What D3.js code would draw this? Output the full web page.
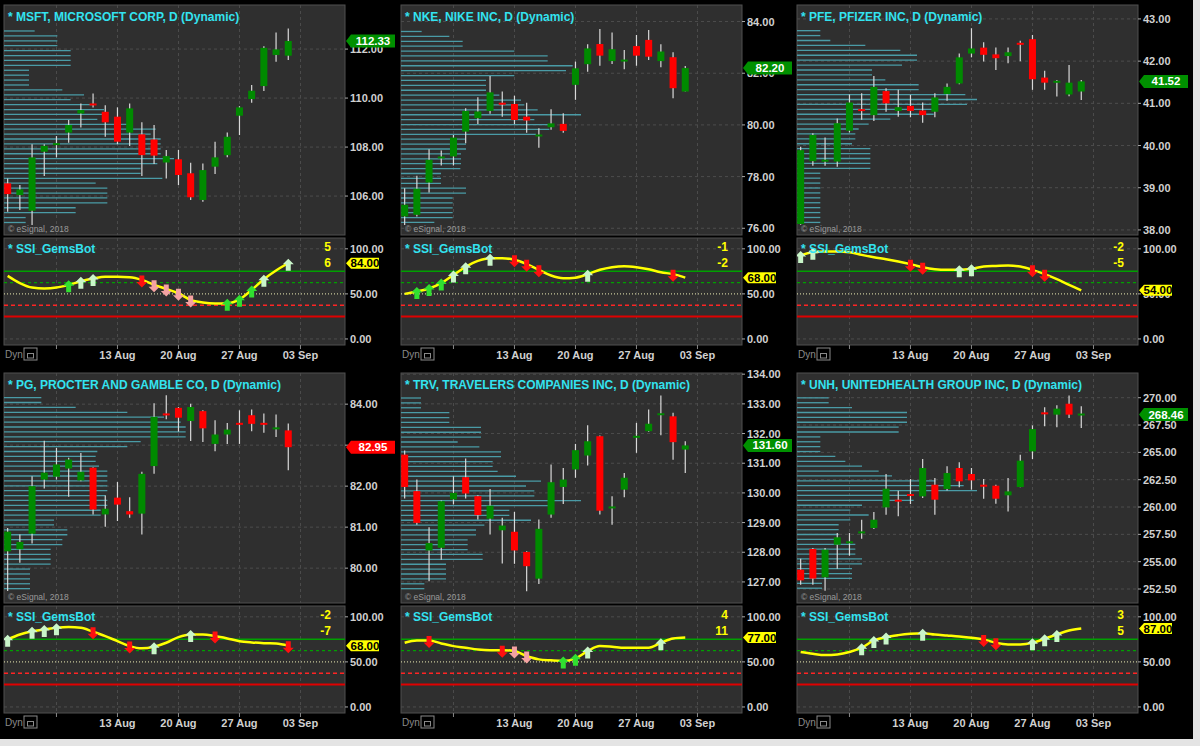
<!DOCTYPE html>
<html>
<head>
<meta charset="utf-8">
<script src="https://cdn.jsdelivr.net/npm/d3@7"></script>
<style>
  html, body { margin: 0; padding: 0; background: #000; }
  svg { display: block; font-family: Arial, "Liberation Sans", sans-serif; }
</style>
</head>
<body>
<div id="chart"></div>
<script>
// ---- data: daily candles [open, high, low, close], 31 Jul .. 31 Aug 2018
const msftCandles = [
  [106.52,106.72,105.36,106.08],[106.04,106.45,105.43,106.27],[105.40,108.12,104.82,107.58],[107.81,108.12,106.82,108.05],
  [108.10,108.45,107.58,108.12],[108.59,109.10,108.18,108.90],[109.37,109.78,108.80,109.51],[109.74,110.19,109.62,109.69],
  [109.44,109.71,108.42,109.01],[109.24,109.62,108.12,108.22],[108.59,109.78,108.04,109.58],[108.52,109.01,106.82,107.67],
  [108.31,108.90,107.31,107.65],[107.37,107.88,106.72,107.63],[107.50,107.88,106.45,106.86],[106.93,107.36,105.84,105.95],
  [105.84,107.33,105.77,107.06],[107.20,108.22,106.90,107.58],[107.67,108.59,107.58,108.42],[109.28,109.67,108.49,109.62],
  [109.96,110.53,109.81,110.30],[110.49,112.12,110.29,112.05],[111.76,112.68,111.48,111.99],[111.73,112.84,111.55,112.33]
]
const nkeCandles = [
  [76.46,77.55,76.13,76.91],[76.52,78.03,76.46,77.53],[77.77,79.06,77.38,78.65],[78.70,79.01,78.43,78.74],
  [78.78,79.61,78.43,79.51],[79.74,80.64,79.29,80.54],[80.26,81.07,80.04,80.52],[80.54,81.89,80.43,81.26],
  [80.82,81.29,80.32,80.77],[80.81,81.13,80.03,80.19],[80.32,80.86,79.70,80.17],[79.55,79.87,79.12,79.59],
  [79.91,80.61,79.81,80.06],[80.04,80.45,79.70,79.77],[81.55,82.45,80.97,82.19],[82.35,83.12,82.06,82.96],
  [83.13,83.71,82.29,82.68],[82.47,83.58,82.36,82.93],[82.46,82.90,82.15,82.49],[83.05,83.48,82.29,82.68],
  [83.29,83.67,82.51,82.64],[82.47,83.12,82.23,82.84],[82.62,82.81,81.03,81.42],[81.29,82.28,81.29,82.20]
]
const pfeCandles = [
  [38.14,39.97,38.12,39.89],[39.63,40.29,39.52,40.25],[39.63,40.19,39.52,39.64],[39.62,40.64,39.50,40.53],
  [40.35,41.21,40.31,41.02],[40.84,41.24,40.61,40.81],[40.72,41.65,40.58,41.39],[41.29,41.36,40.80,41.00],
  [40.82,41.32,40.68,40.91],[40.94,41.20,40.67,40.82],[40.83,41.02,40.54,40.72],[40.80,41.24,40.67,41.14],
  [41.22,41.47,41.06,41.39],[41.47,42.18,41.45,42.09],[42.18,42.78,42.09,42.30],[42.32,42.45,41.99,42.15],
  [42.16,42.32,41.79,42.07],[42.12,42.32,41.95,42.21],[42.41,42.48,42.00,42.39],[42.52,42.62,41.32,41.57],
  [41.61,41.77,41.32,41.49],[41.50,41.55,41.16,41.51],[41.21,41.91,41.17,41.49],[41.28,41.55,41.08,41.52]
]
const pgCandles = [
  [80.41,80.98,79.44,80.89],[80.46,80.82,80.13,80.64],[80.84,82.24,80.60,82.00],[82.16,83.11,81.94,82.33],
  [82.23,82.93,82.16,82.53],[82.43,82.69,81.74,82.65],[82.14,82.81,82.12,82.35],[82.45,82.46,81.31,81.43],
  [81.31,81.77,81.01,81.45],[81.72,82.10,81.15,81.55],[81.39,81.73,81.23,81.31],[81.33,82.35,80.82,82.30],
  [82.49,84.02,82.30,83.69],[83.75,84.22,83.63,83.72],[83.91,83.93,83.33,83.67],[83.59,84.01,83.10,83.93],
  [83.83,83.85,83.08,83.41],[83.03,83.61,82.85,83.26],[83.26,83.54,83.03,83.38],[83.52,83.85,83.03,83.49],
  [83.73,83.87,83.34,83.52],[83.52,83.77,83.30,83.49],[83.40,83.75,83.20,83.41],[83.36,83.53,82.39,82.95]
]
const trvCandles = [
  [131.29,131.43,129.81,130.20],[130.06,130.45,128.93,128.99],[128.06,128.84,127.02,128.31],[128.15,129.74,127.75,129.72],
  [129.78,130.56,129.61,130.00],[130.53,131.16,129.81,129.98],[129.89,129.92,129.10,129.25],[129.13,130.13,128.60,129.57],
  [128.74,129.16,127.62,128.90],[128.69,129.36,127.61,128.06],[128.01,128.03,126.69,127.53],[127.11,129.10,126.93,128.79],
  [129.27,130.96,129.16,130.36],[130.20,130.84,129.63,130.45],[130.79,131.65,130.51,131.44],[131.26,132.28,130.92,131.74],
  [131.91,131.93,129.27,129.40],[129.48,129.89,128.93,129.51],[130.11,130.67,129.85,130.51],[131.85,132.36,131.35,131.89],
  [132.08,132.81,132.06,132.33],[132.63,133.28,131.94,132.65],[132.58,132.70,131.12,131.71],[131.46,131.74,130.67,131.60]
]
const unhCandles = [
  [254.27,255.27,252.90,253.29],[256.16,256.25,252.90,253.45],[253.57,256.25,252.35,256.10],[256.55,257.62,254.36,257.23],
  [256.71,257.62,255.55,256.77],[257.62,258.84,257.10,257.68],[258.08,259.54,257.99,258.84],[259.97,263.02,259.30,261.68],
  [260.58,261.49,259.15,260.46],[261.10,262.56,260.27,260.98],[260.98,264.39,260.82,263.57],[262.04,262.65,259.30,260.67],
  [261.65,263.72,261.52,263.11],[263.57,264.09,261.80,262.35],[263.02,263.57,261.59,262.44],[261.95,262.56,260.76,261.83],
  [261.95,262.04,260.30,260.76],[261.07,262.65,259.60,261.43],[261.83,264.79,261.80,264.24],[265.09,267.47,264.39,267.13],
  [268.57,269.12,267.38,268.45],[268.45,269.30,267.29,269.00],[269.45,270.21,268.14,268.45],[268.41,269.21,267.23,268.46]
]

// ---- volume-at-price profile, top row (high) to bottom row (low), relative units
const msftProfile = [92,160,160,160,200,200,200,200,75,75,75,75,175,240,200,270,300,310,280,385,455,440,470,470,470,470,510,460,410,410,475,275,310,310,310,310,215,215,65,65]
const nkeProfile = [62,145,185,185,340,440,440,515,495,340,255,255,255,295,360,370,410,540,400,445,445,405,195,195,195,180,180,180,178,120,120,120,195,195,155,155,155,155,155,100]
const pfeProfile = [70,70,100,205,310,360,360,315,225,225,265,365,365,505,540,510,420,410,280,215,185,175,175,165,220,220,220,220,220,70,70,70,70,70,70,70,70,70,70,70]
const pgProfile = [112,112,215,370,480,530,545,545,545,410,370,280,275,275,285,310,310,310,310,310,305,310,310,290,290,150,150,190,190,175,175,140,140,140,140,78,78,78,78,78]
const trvProfile = [60,60,60,145,145,145,240,240,240,170,235,300,300,275,275,290,345,420,375,400,400,540,445,325,325,390,250,225,225,200,200,200,245,245,135,135,135,135,70,70]
const unhProfile = [95,95,165,330,330,330,305,305,70,70,70,70,115,145,195,245,285,415,500,540,350,350,195,160,215,160,125,125,125,125,175,175,175,195,195,165,165,165,75,75]

// ---- SSI_GemsBot oscillator values, one per candle
const msftSsi = [70,62,57,56,57,60,64,67,69,69,68.5,65.5,60,55.5,50.7,43.3,40.4,39.3,39.6,44,54.4,66.3,76,84]
const nkeSsi = [50,52.6,56,62,71,80,86.7,89.6,89.6,87.8,83,76.7,70.4,67.4,68,71.9,76.7,79.6,80.7,79.6,77.4,74,71.9,68]
const pfeSsi = [92.6,96.3,97,97,96.3,93.3,90.7,88.5,86,83,79.6,77.4,76.7,76.7,77.8,80.4,81,81.5,80.4,76.7,71.9,66.3,60,54]
const pgSsi = [75,80.4,84,86,87.8,88.6,87.8,83.4,78.6,73,67.5,65,66.8,71.2,77.5,80.4,80.4,78.6,76,73,71.6,70.8,70.5,68]
const trvSsi = [71.2,73.8,73.8,70.5,67.5,65.7,63.8,63,63,62,56.5,52.8,51.7,51,53.9,62,67.5,66.8,65.7,65.7,65.7,71.2,76,77]
const unhSsi = [61,59,57.6,58.3,61,65.7,73.8,77.5,79.7,81.2,81.9,80.4,79.3,78.2,76.8,74.9,71.2,69.4,69.4,71.2,75.6,80.4,84.9,87]

// ---- signal arrows per candle: G strong buy, g buy, R strong sell, r sell, . none
const msftSignals = ".....Ggg...Rrrrr..GGGg.g"
const nkeSignals  = ".GGGgg.g.RRR...g......R."
const pfeSignals  = "gg.......RR..gg....RR..."
const pgSignals   = "g.ggg..R..R.g..g.R.....R"
const trvSignals  = "..R.....Rrr..GGg.....g.."
const unhSignals  = ".....ggg..g....RR..ggg.."

const msftCounts = ["5", "6"]
const nkeCounts = ["-1", "-2"]
const pfeCounts = ["-2", "-5"]
const pgCounts = ["-2", "-7"]
const trvCounts = ["4", "11"]
const unhCounts = ["3", "5"]

// ---- axis ticks
const msftTicks = [106, 108, 110, 112]
const nkeTicks = [76, 78, 80, 82, 84]
const pfeTicks = [38, 39, 40, 41, 42, 43]
const pgTicks = [80, 81, 82, 83, 84]
const trvTicks = [127, 128, 129, 130, 131, 132, 133, 134]
const unhTicks = [252.5, 255, 257.5, 260, 262.5, 265, 267.5, 270]
const ssiTicks = [0, 50, 100]
const ssiLevels = [75, 62.5, 50, 37.5, 25]
const dateTickIndex = [4, 9, 14, 19, 24]
const dateTickLabels = ["", "13 Aug", "20 Aug", "27 Aug", "03 Sep"]

// ---- layout
const W = 1200, H = 746
const colLeft = [4, 401, 797]
const rowTop = [5, 373]
const plotW = 341, priceH = 230, gapH = 3, indH = 107

const panels = [
  { title: "* MSFT, MICROSOFT CORP, D (Dynamic)", candles: msftCandles, profile: msftProfile, ssi: msftSsi, signals: msftSignals, counts: msftCounts, ticks: msftTicks, view: [104.41, 113.80], col: 0, row: 0 },
  { title: "* NKE, NIKE INC, D (Dynamic)", candles: nkeCandles, profile: nkeProfile, ssi: nkeSsi, signals: nkeSignals, counts: nkeCounts, ticks: nkeTicks, view: [75.74, 84.64], col: 1, row: 0 },
  { title: "* PFE, PFIZER INC, D (Dynamic)", candles: pfeCandles, profile: pfeProfile, ssi: pfeSsi, signals: pfeSignals, counts: pfeCounts, ticks: pfeTicks, view: [37.88, 43.33], col: 2, row: 0 },
  { title: "* PG, PROCTER AND GAMBLE CO, D (Dynamic)", candles: pgCandles, profile: pgProfile, ssi: pgSsi, signals: pgSignals, counts: pgCounts, ticks: pgTicks, view: [79.15, 84.76], col: 0, row: 1 },
  { title: "* TRV, TRAVELERS COMPANIES INC, D (Dynamic)", candles: trvCandles, profile: trvProfile, ssi: trvSsi, signals: trvSignals, counts: trvCounts, ticks: trvTicks, view: [126.29, 134.04], col: 1, row: 1 },
  { title: "* UNH, UNITEDHEALTH GROUP INC, D (Dynamic)", candles: unhCandles, profile: unhProfile, ssi: unhSsi, signals: unhSignals, counts: unhCounts, ticks: unhTicks, view: [251.22, 272.26], col: 2, row: 1 }
]

const signalColor = { G: "#30e030", g: "#c9f5c9", R: "#ff1010", r: "#f4a2a2" }
const fmt = d3.format(".2f")

const svg = d3.select("#chart").append("svg")
  .attr("width", W).attr("height", H)
  .attr("viewBox", [0, 0, W, H])

svg.append("rect").attr("width", W).attr("height", H).attr("fill", "#000")

function arrowPath(cx, cy, up) {
  const s = up ? 1 : -1
  return d3.line()([
    [cx, cy - 6 * s], [cx + 5.5, cy - 0.5 * s], [cx + 2.5, cy - 0.5 * s], [cx + 2.5, cy + 6 * s],
    [cx - 2.5, cy + 6 * s], [cx - 2.5, cy - 0.5 * s], [cx - 5.5, cy - 0.5 * s]
  ]) + "Z"
}

function valueTag(g, x0, yc, w, h, fill, textFill, label) {
  g.append("path")
    .attr("d", d3.line()([[x0, yc], [x0 + 5, yc - h / 2], [x0 + w, yc - h / 2], [x0 + w, yc + h / 2], [x0 + 5, yc + h / 2]]) + "Z")
    .attr("fill", fill)
  g.append("text")
    .attr("x", x0 + 5 + (w - 5) / 2).attr("y", yc + 4)
    .attr("text-anchor", "middle")
    .attr("fill", textFill).attr("font-size", 11.5).attr("font-weight", "bold")
    .text(label)
}

function drawPanel(p) {
  const L = colLeft[p.col], R = L + plotW
  const top = rowTop[p.row], pBot = top + priceH
  const iTop = pBot + gapH, iBot = iTop + indH
  const g = svg.append("g")

  const x = d3.scaleLinear().domain([-0.3, 27.65]).range([L, R])
  const y = d3.scaleLinear().domain(p.view).range([pBot, top])
  const yI = d3.scaleLinear().domain([-6.7, 112]).range([iBot, iTop])

  // plot backgrounds
  g.append("rect").attr("x", L).attr("y", top).attr("width", plotW).attr("height", priceH)
    .attr("fill", "#2f2f2f").attr("stroke", "#505050")
  g.append("rect").attr("x", L).attr("y", iTop).attr("width", plotW).attr("height", indH)
    .attr("fill", "#2f2f2f").attr("stroke", "#505050")

  const clip = "clip" + p.col + p.row
  g.append("clipPath").attr("id", clip).append("rect")
    .attr("x", L).attr("y", top).attr("width", plotW).attr("height", priceH)
  const clipI = "clipI" + p.col + p.row
  g.append("clipPath").attr("id", clipI).append("rect")
    .attr("x", L).attr("y", iTop).attr("width", plotW).attr("height", indH)

  // grid
  const grid = g.append("g").attr("stroke", "#4d4d4d").attr("stroke-dasharray", "3,3")
  grid.selectAll("line.h").data(p.ticks.filter(t => y(t) > top + 1)).join("line")
    .attr("x1", L).attr("x2", R).attr("y1", d => y(d)).attr("y2", d => y(d))
  grid.selectAll("line.v").data(dateTickIndex).join("line")
    .attr("x1", d => x(d)).attr("x2", d => x(d)).attr("y1", top).attr("y2", pBot)
  grid.selectAll("line.vi").data(dateTickIndex).join("line")
    .attr("x1", d => x(d)).attr("x2", d => x(d)).attr("y1", iTop).attr("y2", iBot)
  grid.selectAll("line.hi").data([0, 100]).join("line")
    .attr("x1", L).attr("x2", R).attr("y1", d => yI(d)).attr("y2", d => yI(d))

  // volume profile
  const hi = d3.max(p.candles, d => d[1]), lo = d3.min(p.candles, d => d[2])
  const step = (hi - lo) / p.profile.length
  const vol = d3.scaleLinear().domain([0, 600]).range([0, 200])
  g.append("g").attr("clip-path", `url(#${clip})`)
    .selectAll("line").data(p.profile).join("line")
    .attr("x1", L).attr("x2", d => L + vol(d))
    .attr("y1", (d, i) => y(hi - (i + 0.5) * step)).attr("y2", (d, i) => y(hi - (i + 0.5) * step))
    .attr("stroke", "#4a9ba6").attr("stroke-width", 1.3)

  // candles
  const cg = g.append("g").attr("clip-path", `url(#${clip})`)
  cg.selectAll("line").data(p.candles).join("line")
    .attr("x1", (d, i) => x(i)).attr("x2", (d, i) => x(i))
    .attr("y1", d => y(d[1])).attr("y2", d => y(d[2]))
    .attr("stroke", "#d9d9d9").attr("stroke-width", 1.2)
  cg.selectAll("rect").data(p.candles).join("rect")
    .attr("x", (d, i) => x(i) - 3.5).attr("width", 7)
    .attr("y", d => Math.min(y(d[0]), y(d[3])) - (Math.abs(y(d[0]) - y(d[3])) < 2 ? 1 : 0))
    .attr("height", d => Math.max(2, Math.abs(y(d[0]) - y(d[3]))))
    .attr("fill", d => d[3] >= d[0] ? "#008a00" : "#ff0000")

  // titles
  g.append("text").attr("x", L + 4).attr("y", top + 16)
    .attr("fill", "#33e3f0").attr("font-size", 12).attr("font-weight", "bold").text(p.title)
  g.append("text").attr("x", L + 4).attr("y", pBot - 3)
    .attr("fill", "#9a9a9a").attr("font-size", 8.5).text("© eSignal, 2018")

  // price axis
  const axisG = g.append("g")
  axisG.selectAll("text").data(p.ticks).join("text")
    .attr("x", R + 5).attr("y", d => y(d) + 4)
    .attr("fill", "#d0d0d0").attr("font-size", 11).attr("font-weight", "bold")
    .text(d => fmt(d))
  axisG.selectAll("line").data(p.ticks).join("line")
    .attr("x1", R).attr("x2", R + 3).attr("y1", d => y(d)).attr("y2", d => y(d))
    .attr("stroke", "#aaa")

  const last = p.candles[p.candles.length - 1]
  valueTag(g, R + 1, y(last[3]), 49, 13, last[3] >= last[0] ? "#009000" : "#ff0000", "#fff", fmt(last[3]))

  // indicator levels
  const lvlStyle = [
    { c: "#00a000", w: 1.5, d: null },
    { c: "#00a000", w: 1.2, d: "3,3" },
    { c: "#c8c89a", w: 1.1, d: "1,2" },
    { c: "#ff2424", w: 1.5, d: "4,3" },
    { c: "#e00000", w: 2, d: null }
  ]
  g.append("g").selectAll("line").data(ssiLevels).join("line")
    .attr("x1", L).attr("x2", R).attr("y1", d => yI(d)).attr("y2", d => yI(d))
    .attr("stroke", (d, i) => lvlStyle[i].c).attr("stroke-width", (d, i) => lvlStyle[i].w)
    .attr("stroke-dasharray", (d, i) => lvlStyle[i].d)

  // SSI line
  g.append("path").datum(p.ssi)
    .attr("clip-path", `url(#${clipI})`)
    .attr("d", d3.line().x((d, i) => x(i)).y(d => yI(d)).curve(d3.curveMonotoneX))
    .attr("fill", "none").attr("stroke", "#ffff00").attr("stroke-width", 2.5)

  // signal arrows
  const sig = Array.from(p.signals).map((s, i) => ({ s, i })).filter(d => d.s !== ".")
  g.append("g").attr("clip-path", `url(#${clipI})`)
    .selectAll("path").data(sig).join("path")
    .attr("d", d => arrowPath(x(d.i), yI(p.ssi[d.i]) + 1.5, d.s === "G" || d.s === "g"))
    .attr("fill", d => signalColor[d.s])

  g.append("text").attr("x", L + 4).attr("y", iTop + 15)
    .attr("fill", "#33e3f0").attr("font-size", 12).attr("font-weight", "bold").text("* SSI_GemsBot")
  g.selectAll("text.cnt").data(p.counts).join("text")
    .attr("x", R - 14).attr("y", (d, i) => iTop + 13 + i * 15.5)
    .attr("text-anchor", "end")
    .attr("fill", "#ffff00").attr("font-size", 12).attr("font-weight", "bold").text(d => d)

  // indicator axis
  g.append("g").selectAll("text").data(ssiTicks).join("text")
    .attr("x", R + 5).attr("y", d => yI(d) + 4)
    .attr("fill", "#d0d0d0").attr("font-size", 11).attr("font-weight", "bold")
    .text(d => fmt(d))
  g.append("g").selectAll("line").data(ssiTicks).join("line")
    .attr("x1", R).attr("x2", R + 3).attr("y1", d => yI(d)).attr("y2", d => yI(d))
    .attr("stroke", "#aaa")
  valueTag(g, R + 1, yI(p.ssi[p.ssi.length - 1]), 33, 11, "#ffff00", "#000", fmt(p.ssi[p.ssi.length - 1]))

  // date axis
  g.append("g").selectAll("line").data(dateTickIndex).join("line")
    .attr("x1", d => x(d)).attr("x2", d => x(d)).attr("y1", iBot).attr("y2", iBot + 4)
    .attr("stroke", "#888")
  g.append("g").selectAll("text").data(dateTickIndex).join("text")
    .attr("x", d => x(d)).attr("y", iBot + 14)
    .attr("text-anchor", "middle")
    .attr("fill", "#d0d0d0").attr("font-size", 11).attr("font-weight", "bold")
    .text((d, i) => dateTickLabels[i])

  g.append("text").attr("x", L + 1).attr("y", iBot + 13)
    .attr("fill", "#8a8a8a").attr("font-size", 10).text("Dyn")
  g.append("rect").attr("x", L + 20).attr("y", iBot + 3).attr("width", 13).attr("height", 12)
    .attr("fill", "none").attr("stroke", "#8a8a8a")
  g.append("rect").attr("x", L + 23.5).attr("y", iBot + 8.5).attr("width", 6).attr("height", 4.5)
    .attr("fill", "none").attr("stroke", "#8a8a8a")
}

panels.forEach(drawPanel)

// outer screenshot frame
svg.append("rect").attr("x", 0).attr("y", 739).attr("width", W).attr("height", 7).attr("fill", "#e4e4e4")
svg.append("rect").attr("x", 1193).attr("y", 0).attr("width", 7).attr("height", H).attr("fill", "#e4e4e4")
</script>
</body>
</html>
